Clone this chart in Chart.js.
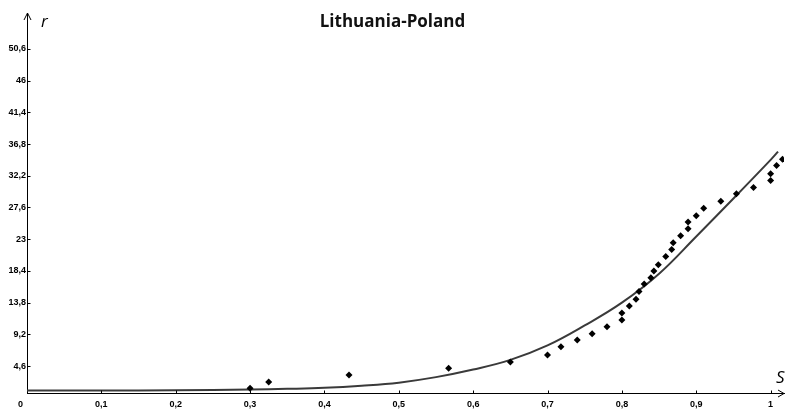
<!DOCTYPE html>
<html><head><meta charset="utf-8">
<script src="https://cdn.jsdelivr.net/npm/chart.js@4.4.0/dist/chart.umd.min.js"></script>
<style>html,body{margin:0;padding:0;background:#fff;}#wrap{width:788px;height:410px;position:relative;}</style>
</head><body><div id="wrap"><canvas id="c"></canvas></div>
<script>
const chartTitle = 'Lithuania-Poland';
const xAxisName = 'S';
const yAxisName = 'r';
const xTicks = [0, 0.1, 0.2, 0.3, 0.4, 0.5, 0.6, 0.7, 0.8, 0.9, 1];
const yTicks = [4.6, 9.2, 13.8, 18.4, 23, 27.6, 32.2, 36.8, 41.4, 46, 50.6];

// observed points
const obsS = [0.30, 0.325, 0.433, 0.567, 0.65, 0.70, 0.718, 0.74, 0.76, 0.78, 0.80, 0.80, 0.81, 0.819, 0.823, 0.83, 0.839, 0.843, 0.849, 0.859, 0.867, 0.869, 0.879, 0.889, 0.889, 0.90, 0.91, 0.933, 0.954, 0.977, 1.0, 1.0, 1.008, 1.016];
const obsR = [1.4, 2.3, 3.3, 4.3, 5.2, 6.2, 7.4, 8.4, 9.3, 10.3, 11.3, 12.3, 13.3, 14.3, 15.4, 16.5, 17.4, 18.4, 19.3, 20.5, 21.5, 22.5, 23.5, 24.5, 25.5, 26.4, 27.5, 28.5, 29.6, 30.5, 31.5, 32.5, 33.7, 34.6];

// fitted curve
const fitS = [0, 0.1, 0.2, 0.3, 0.35, 0.4, 0.45, 0.5, 0.55, 0.6, 0.65, 0.7, 0.75, 0.8, 0.85, 0.9, 0.95, 1.0, 1.01];
const fitR = [1.05, 1.05, 1.1, 1.2, 1.3, 1.45, 1.75, 2.2, 3.0, 4.1, 5.5, 7.6, 10.5, 13.8, 18.0, 23.4, 28.9, 34.5, 35.7];

const fmt = v => String(Number(v.toFixed(1))).replace('.', ',');
const tickFont = {family: '"Liberation Sans", Arial, sans-serif', size: 9, weight: 'bold'};

const decor = {
  id: 'decor',
  afterDraw(chart) {
    const {ctx, chartArea: a, scales: {x, y}} = chart;
    ctx.save();
    ctx.strokeStyle = '#000';
    ctx.lineWidth = 1;
    const ax = Math.round(a.left) + 0.5;
    const ay = Math.round(a.bottom) + 0.5;
    // y arrow
    ctx.beginPath();
    ctx.moveTo(ax - 3.5, a.top + 7); ctx.lineTo(ax, a.top); ctx.lineTo(ax + 3.5, a.top + 7);
    ctx.stroke();
    // x arrow
    ctx.beginPath();
    ctx.moveTo(a.right - 6, ay - 3.5); ctx.lineTo(a.right, ay); ctx.lineTo(a.right - 6, ay + 3.5);
    ctx.stroke();
    // tick marks
    ctx.beginPath();
    yTicks.forEach(v => { const p = Math.round(y.getPixelForValue(v)) + 0.5; ctx.moveTo(ax, p); ctx.lineTo(ax + 3, p); });
    xTicks.forEach(v => { if (v === 0) return; const p = Math.round(x.getPixelForValue(v)) + 0.5; ctx.moveTo(p, ay); ctx.lineTo(p, ay - 3); });
    ctx.stroke();
    // origin label
    ctx.fillStyle = '#000';
    ctx.font = 'bold 9px "Liberation Sans", Arial, sans-serif';
    ctx.textAlign = 'center'; ctx.textBaseline = 'middle';
    ctx.fillText('0', 20.5, 404.5);
    // axis names
    ctx.font = 'italic 17px "Open Sans", sans-serif';
    ctx.textAlign = 'left'; ctx.textBaseline = 'alphabetic';
    ctx.fillText(yAxisName, 41, 27);
    ctx.fillText(xAxisName, 776, 383);
    // title
    ctx.fillStyle = '#111';
    ctx.font = 'bold 17px "Open Sans", sans-serif';
    ctx.textAlign = 'center';
    ctx.fillText(chartTitle, 392.5, 27);
    ctx.restore();
  }
};

new Chart(document.getElementById('c'), {
  type: 'scatter',
  data: {
    datasets: [
      {
        data: fitS.map((s, i) => ({x: s, y: fitR[i]})),
        showLine: true,
        borderColor: '#3a3a3a',
        borderWidth: 2,
        pointRadius: 0,
        tension: 0.4,
        order: 2
      },
      {
        data: obsS.map((s, i) => ({x: s, y: obsR[i]})),
        pointStyle: 'rectRot',
        pointRadius: 3.5,
        backgroundColor: '#000',
        borderColor: '#000',
        borderWidth: 0,
        order: 1
      }
    ]
  },
  options: {
    responsive: true,
    maintainAspectRatio: false,
    animation: false,
    layout: {padding: {top: 13, left: 0, right: 0, bottom: 0}},
    plugins: {legend: {display: false}, tooltip: {enabled: false}, title: {display: false}},
    scales: {
      x: {
        type: 'linear', min: 0, max: 1.018,
        afterBuildTicks: s => { s.ticks = xTicks.map(v => ({value: v})); },
        afterFit: s => { s.height = 17; },
        grid: {display: true, drawOnChartArea: false, drawTicks: false},
        border: {display: true, color: '#000', width: 1},
        ticks: {font: tickFont, color: '#000', padding: 6, maxRotation: 0, autoSkip: false,
                callback: v => v === 0 ? '' : fmt(v)}
      },
      y: {
        type: 'linear', min: 0.7, max: 55.8,
        afterBuildTicks: s => { s.ticks = yTicks.map(v => ({value: v})); },
        afterFit: s => { s.width = 27; },
        grid: {display: true, drawOnChartArea: false, drawTicks: false},
        border: {display: true, color: '#000', width: 1},
        ticks: {font: tickFont, color: '#000', padding: 1, autoSkip: false, callback: v => fmt(v)}
      }
    }
  },
  plugins: [decor]
});
</script>
</body></html>
